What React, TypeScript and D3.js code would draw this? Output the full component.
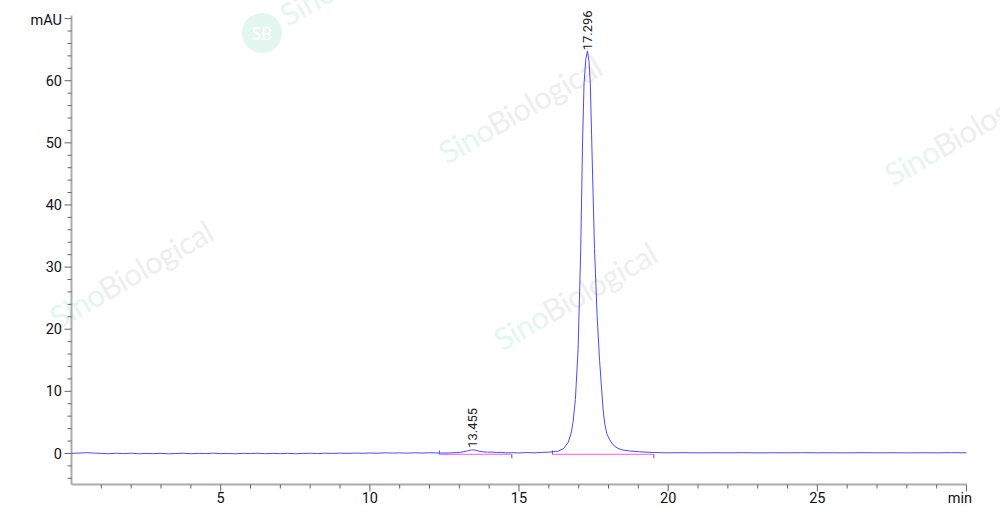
import * as d3 from "d3";

// signal: [time (min), absorbance (mAU)]
const baselineBefore: [number, number][] = [
  [0.0, 0.02], [0.25, 0.05], [0.5, 0.12], [0.75, 0.06], [1.0, 0.01], [1.25, -0.04],
  [1.5, 0.03], [1.75, -0.02], [2.0, 0.04], [2.25, -0.05], [2.5, 0.0], [2.75, -0.03],
  [3.0, 0.02], [3.25, -0.06], [3.5, -0.01], [3.75, 0.03], [4.0, -0.04], [4.25, 0.01],
  [4.5, -0.02], [4.75, 0.04], [5.0, -0.03], [5.25, 0.0], [5.5, -0.05], [5.75, 0.02],
  [6.0, -0.02], [6.25, 0.03], [6.5, -0.04], [6.75, 0.01], [7.0, -0.03], [7.25, 0.02],
  [7.5, -0.05], [7.75, 0.0], [8.0, 0.03], [8.25, -0.02], [8.5, 0.04], [8.75, 0.0],
  [9.0, 0.05], [9.25, 0.01], [9.5, 0.06], [9.75, 0.02], [10.0, 0.07], [10.25, 0.03],
  [10.5, 0.1], [10.75, 0.06], [11.0, 0.09], [11.25, 0.05], [11.5, 0.1], [11.75, 0.07],
  [12.0, 0.11], [12.25, 0.08],
];

const minorPeak: [number, number][] = [
  [12.5, 0.06], [12.75, 0.1], [13.0, 0.15], [13.15, 0.28], [13.3, 0.45], [13.4, 0.55],
  [13.455, 0.58], [13.55, 0.5], [13.65, 0.38], [13.8, 0.25], [13.95, 0.2], [14.1, 0.22],
  [14.25, 0.15], [14.4, 0.18], [14.55, 0.1], [14.75, 0.12], [15.0, 0.08], [15.25, 0.14],
  [15.5, 0.1], [15.75, 0.16], [16.0, 0.2],
];

const mainPeak: [number, number][] = [
  [16.3, 0.35], [16.5, 0.8], [16.65, 1.8], [16.75, 3.3], [16.81, 5.0], [16.89, 8.7],
  [16.98, 16.7], [17.07, 33], [17.13, 50], [17.18, 59.5], [17.24, 63.5], [17.296, 64.8],
  [17.35, 63], [17.39, 59.5], [17.44, 50], [17.53, 33], [17.62, 22], [17.7, 15],
  [17.76, 11], [17.82, 7], [17.88, 4.6], [17.95, 3.1], [18.04, 2.2], [18.14, 1.45],
  [18.25, 1.0], [18.35, 0.75], [18.48, 0.55], [18.7, 0.4], [19.05, 0.27], [19.48, 0.15],
];

const baselineAfter: [number, number][] = [
  [19.75, 0.12], [20.0, 0.1], [20.5, 0.12], [21.0, 0.09], [21.5, 0.11], [22.0, 0.1],
  [22.5, 0.12], [23.0, 0.09], [23.5, 0.11], [24.0, 0.1], [24.5, 0.12], [25.0, 0.1],
  [25.5, 0.11], [26.0, 0.09], [26.5, 0.12], [27.0, 0.1], [27.5, 0.11], [28.0, 0.09],
  [28.5, 0.11], [29.0, 0.1], [29.5, 0.12], [30.0, 0.1],
];

// integration: retention times and baseline start/end
const peakTimes = [13.455, 17.296];
const peakLabels = ["13.455", "17.296"];
const peakLabelBottoms = [0.9, 64.9];
const integStart = [12.33, 16.12];
const integEnd = [14.76, 19.52];

const xMajorTicks = [5, 10, 15, 20, 25];
const yMajorTicks = [0, 10, 20, 30, 40, 50, 60];

const watermarks = [
  { x: 447, y: 165 },
  { x: 58, y: 330 },
  { x: 502, y: 352 },
  { x: 893, y: 187 },
];

export default function App() {
  const width = 1000;
  const height = 525;
  const x = d3.scaleLinear().domain([0, 30]).range([71.5, 966.5]);
  const y = d3.scaleLinear().domain([-5, 70.5]).range([484.5, 15.5]);

  const signal = [...baselineBefore, ...minorPeak, ...mainPeak, ...baselineAfter];
  const line = d3
    .line<[number, number]>()
    .x((d) => x(d[0]))
    .y((d) => y(d[1]));

  const xMinor = d3.range(1, 30).filter((t) => t % 5 !== 0);
  const yMinor = d3.range(-4, 71, 2).filter((v) => v % 10 !== 0);

  const font = "Roboto, 'Liberation Sans', sans-serif";
  const axisColor = "#ababab";
  const tickColor = "#666";

  return (
    <svg
      width={width}
      height={height}
      style={{ position: "absolute", left: 0, top: 0, background: "#fff" }}
      fontFamily={font}
    >
      {/* watermarks */}
      <g>
        <circle cx={262} cy={33} r={20} fill="#e3f6ef" />
        <text x={262} y={40} fontSize={17} fill="#fff" textAnchor="middle" fontFamily="Lato, sans-serif">
          SB
        </text>
        <text
          transform="translate(288,27) rotate(-30)"
          fontSize={30}
          fill="#e3f6ef"
          fontFamily="Lato, sans-serif"
        >
          Sino
        </text>
        {watermarks.map((w, i) => (
          <text
            key={i}
            transform={`translate(${w.x},${w.y}) rotate(-30)`}
            fontSize={31}
            fontFamily="Lato, sans-serif"
            letterSpacing={-0.5}
          >
            <tspan fill="#e3f6ef">Sino</tspan>
            <tspan fill="#eeeeee">Biological</tspan>
          </text>
        ))}
      </g>

      {/* axes */}
      <line x1={x(0)} x2={x(0)} y1={y(70.5)} y2={y(-5)} stroke={axisColor} strokeWidth={2} />
      <line x1={x(0)} x2={x(30)} y1={y(-5)} y2={y(-5)} stroke={axisColor} strokeWidth={2} />

      {yMinor.map((v) => (
        <line key={`ym${v}`} x1={x(0) - 4} x2={x(0)} y1={y(v)} y2={y(v)} stroke={tickColor} />
      ))}
      {[...yMajorTicks, 70].map((v) => (
        <line key={`yM${v}`} x1={x(0) - 7} x2={x(0)} y1={y(v)} y2={y(v)} stroke={tickColor} />
      ))}
      {yMajorTicks.map((v) => (
        <text key={`yl${v}`} x={62} y={y(v)} dy="0.35em" textAnchor="end" fontSize={14.5} fill="#111">
          {v}
        </text>
      ))}
      <text x={62} y={y(70) + 1} dy="0.35em" textAnchor="end" fontSize={14.5} fill="#111">
        mAU
      </text>

      {xMinor.map((t) => (
        <line key={`xm${t}`} x1={x(t)} x2={x(t)} y1={y(-5)} y2={y(-5) + 4} stroke={tickColor} />
      ))}
      {[...xMajorTicks, 30].map((t) => (
        <line key={`xM${t}`} x1={x(t)} x2={x(t)} y1={y(-5)} y2={y(-5) + 7} stroke={tickColor} />
      ))}
      {xMajorTicks.map((t) => (
        <text key={`xl${t}`} x={x(t)} y={503} textAnchor="middle" fontSize={14.5} fill="#111">
          {t}
        </text>
      ))}
      <text x={972} y={503} textAnchor="end" fontSize={14.5} fill="#111">
        min
      </text>

      {/* integration baselines */}
      {integStart.map((s, i) => (
        <g key={`ib${i}`}>
          <line x1={x(s)} x2={x(integEnd[i])} y1={y(-0.15)} y2={y(-0.15)} stroke="#ff77ff" strokeWidth={1.2} />
          <line x1={x(s)} x2={x(s)} y1={y(-0.15)} y2={y(-0.15) - 4} stroke="#666" />
          <line x1={x(integEnd[i])} x2={x(integEnd[i])} y1={y(-0.15)} y2={y(-0.15) + 4} stroke="#666" />
        </g>
      ))}

      {/* signal */}
      <path d={line(signal) ?? ""} fill="none" stroke="#4a4aff" strokeWidth={1} />

      {/* peak labels */}
      {peakTimes.map((t, i) => (
        <text
          key={`pl${i}`}
          transform={`translate(${x(t)},${y(peakLabelBottoms[i])}) rotate(-90)`}
          dy="0.35em"
          fontSize={13}
          fill="#222"
        >
          {peakLabels[i]}
        </text>
      ))}
    </svg>
  );
}
